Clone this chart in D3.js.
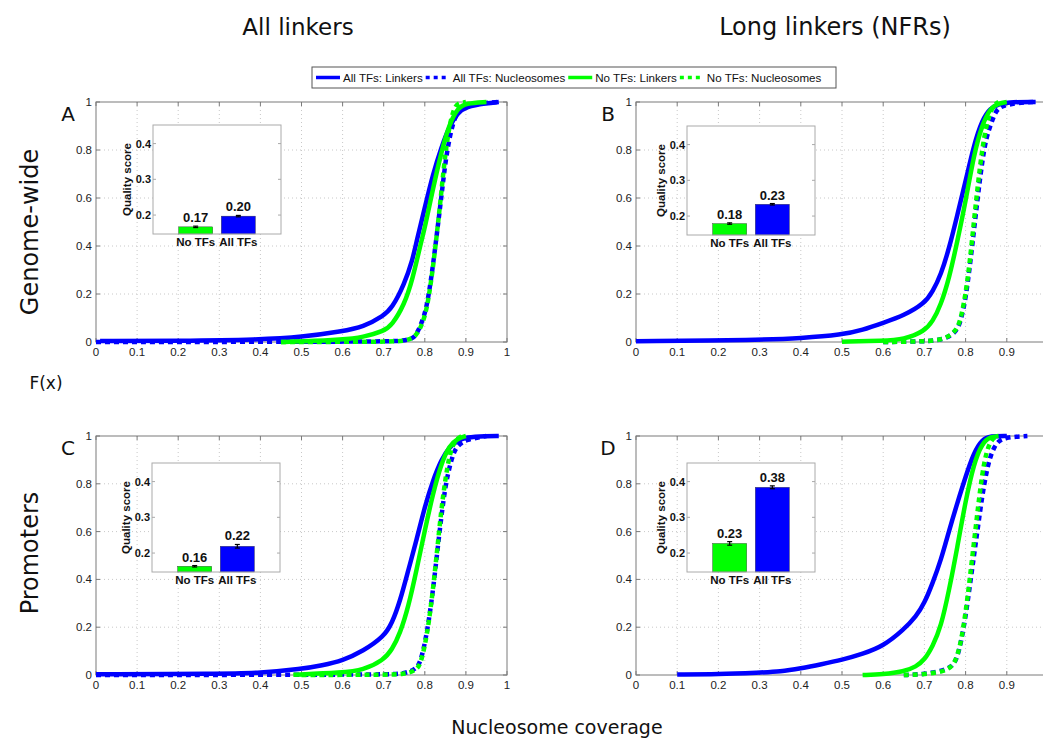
<!DOCTYPE html>
<html>
<head>
<meta charset="utf-8">
<script src="https://cdn.jsdelivr.net/npm/d3@7"></script>
<style>
	body { margin: 0; background: #fff; }
	text { font-family: "Liberation Sans", Arial, sans-serif; }
	.big { font-family: "DejaVu Sans", sans-serif; fill: #111; }
</style>
</head>
<body>
<svg id="chart" width="1043" height="739"></svg>
<script>
// titles and names
const columnTitles = ["All linkers", "Long linkers (NFRs)"];
const rowTitles = ["Genome-wide", "Promoters"];
const panelIds = ["A", "B", "C", "D"];
const seriesNames = ["All TFs: Linkers", "All TFs: Nucleosomes", "No TFs: Linkers", "No TFs: Nucleosomes"];
const barNames = ["No TFs", "All TFs"];

// quality score insets (one value per panel A..D)
const qualityNoTFs = [0.167, 0.179, 0.163, 0.227];
const qualityAllTFs = [0.197, 0.233, 0.219, 0.384];
const errNoTFs = [0.002, 0.002, 0.002, 0.005];
const errAllTFs = [0.002, 0.002, 0.005, 0.004];
const qualityLabelsNo = ["0.17", "0.18", "0.16", "0.23"];
const qualityLabelsAll = ["0.20", "0.23", "0.22", "0.38"];
const insetTicks = [0.2, 0.3, 0.4];

// cumulative distributions [nucleosome coverage, F(x)]
const A_allLinkers = [[0.01,0.004],[0.2,0.005],[0.4,0.01],[0.5,0.02],[0.6,0.045],[0.65,0.062],[0.7,0.11],[0.72,0.14],[0.75,0.24],[0.77,0.34],[0.78,0.42],[0.8,0.56],[0.82,0.7],[0.84,0.81],[0.86,0.9],[0.88,0.955],[0.9,0.98],[0.95,0.995],[0.98,1]];
const A_allNucs = [[0.0,0.0],[0.7,0.001],[0.75,0.005],[0.77,0.015],[0.78,0.03],[0.8,0.11],[0.81,0.2],[0.82,0.32],[0.83,0.46],[0.84,0.6],[0.85,0.75],[0.86,0.85],[0.87,0.92],[0.88,0.96],[0.9,0.98],[0.93,0.995],[0.98,1]];
const A_noLinkers = [[0.45,0.0],[0.5,0.002],[0.6,0.01],[0.65,0.02],[0.7,0.045],[0.72,0.07],[0.75,0.155],[0.77,0.26],[0.79,0.41],[0.8,0.475],[0.82,0.64],[0.84,0.79],[0.86,0.91],[0.88,0.975],[0.9,0.995],[0.95,1]];
const A_noNucs = [[0.45,0.0],[0.7,0.001],[0.75,0.003],[0.78,0.02],[0.8,0.1],[0.81,0.19],[0.82,0.31],[0.83,0.46],[0.84,0.62],[0.85,0.79],[0.86,0.9],[0.87,0.97],[0.88,0.995],[0.9,1]];

const B_allLinkers = [[0.0,0.003],[0.3,0.008],[0.4,0.016],[0.5,0.03],[0.55,0.05],[0.6,0.08],[0.65,0.11],[0.7,0.16],[0.72,0.21],[0.74,0.28],[0.76,0.39],[0.78,0.53],[0.8,0.67],[0.82,0.82],[0.84,0.925],[0.86,0.975],[0.88,0.99],[0.9,1],[0.97,1]];
const B_allNucs = [[0.6,0.0],[0.7,0.002],[0.75,0.01],[0.78,0.045],[0.79,0.1],[0.8,0.18],[0.81,0.31],[0.82,0.46],[0.83,0.61],[0.84,0.75],[0.85,0.85],[0.86,0.9],[0.87,0.95],[0.88,0.975],[0.9,0.99],[0.95,1],[0.97,1]];
const B_noLinkers = [[0.5,0.001],[0.6,0.005],[0.65,0.01],[0.7,0.045],[0.72,0.085],[0.74,0.155],[0.76,0.265],[0.78,0.42],[0.8,0.585],[0.82,0.78],[0.84,0.905],[0.86,0.975],[0.88,0.995],[0.9,1]];
const B_noNucs = [[0.6,0.0],[0.7,0.002],[0.75,0.01],[0.78,0.05],[0.79,0.11],[0.8,0.2],[0.81,0.33],[0.82,0.5],[0.83,0.66],[0.84,0.8],[0.85,0.9],[0.86,0.96],[0.87,0.99],[0.88,1]];

const C_allLinkers = [[0.0,0.003],[0.3,0.005],[0.4,0.008],[0.5,0.025],[0.55,0.04],[0.6,0.06],[0.65,0.1],[0.7,0.16],[0.72,0.215],[0.74,0.31],[0.76,0.44],[0.78,0.565],[0.8,0.705],[0.82,0.815],[0.84,0.9],[0.86,0.955],[0.88,0.98],[0.9,0.995],[0.95,1],[0.98,1]];
const C_allNucs = [[0.0,0.0],[0.7,0.001],[0.75,0.005],[0.78,0.025],[0.79,0.06],[0.8,0.13],[0.81,0.23],[0.82,0.355],[0.83,0.51],[0.84,0.66],[0.85,0.79],[0.86,0.87],[0.87,0.93],[0.88,0.96],[0.9,0.985],[0.95,1]];
const C_noLinkers = [[0.48,0.001],[0.6,0.01],[0.65,0.02],[0.7,0.063],[0.72,0.105],[0.74,0.175],[0.76,0.285],[0.78,0.44],[0.8,0.605],[0.82,0.76],[0.84,0.885],[0.86,0.96],[0.88,0.99],[0.9,1]];
const C_noNucs = [[0.5,0.0],[0.7,0.001],[0.75,0.003],[0.78,0.02],[0.79,0.05],[0.8,0.12],[0.81,0.22],[0.82,0.36],[0.83,0.52],[0.84,0.69],[0.85,0.82],[0.86,0.92],[0.87,0.97],[0.88,0.99],[0.89,1]];

const D_allLinkers = [[0.1,0.002],[0.2,0.003],[0.3,0.01],[0.35,0.014],[0.4,0.028],[0.45,0.045],[0.5,0.063],[0.55,0.088],[0.6,0.12],[0.65,0.19],[0.68,0.245],[0.7,0.3],[0.72,0.385],[0.74,0.48],[0.76,0.605],[0.78,0.72],[0.8,0.83],[0.82,0.93],[0.84,0.985],[0.86,1],[0.9,1]];
const D_allNucs = [[0.65,0.0],[0.7,0.003],[0.75,0.02],[0.77,0.04],[0.78,0.075],[0.79,0.145],[0.8,0.245],[0.81,0.37],[0.82,0.495],[0.83,0.62],[0.84,0.745],[0.85,0.845],[0.86,0.915],[0.87,0.955],[0.88,0.98],[0.9,0.995],[0.95,1]];
const D_noLinkers = [[0.55,0.0],[0.6,0.003],[0.65,0.014],[0.68,0.035],[0.7,0.063],[0.72,0.12],[0.74,0.2],[0.76,0.355],[0.78,0.535],[0.8,0.73],[0.82,0.885],[0.84,0.97],[0.86,0.997],[0.88,1]];
const D_noNucs = [[0.65,0.0],[0.7,0.003],[0.75,0.015],[0.77,0.04],[0.78,0.08],[0.79,0.15],[0.8,0.26],[0.81,0.4],[0.82,0.55],[0.83,0.7],[0.84,0.84],[0.85,0.93],[0.86,0.975],[0.87,0.995],[0.88,1]];

const curves = {
	A: [A_allLinkers, A_allNucs, A_noLinkers, A_noNucs],
	B: [B_allLinkers, B_allNucs, B_noLinkers, B_noNucs],
	C: [C_allLinkers, C_allNucs, C_noLinkers, C_noNucs],
	D: [D_allLinkers, D_allNucs, D_noLinkers, D_noNucs]
};

const blue = "#0000ff", green = "#00ff00";
const seriesColor = [blue, blue, green, green];
const seriesDash = [null, "5,4", null, "5,4"];

// panel geometry
const layout = {
	A: { left: 96, right: 507, top: 102, bottom: 342, ix: 153, iy: 125 },
	B: { left: 636, right: 1048, top: 102, bottom: 342, ix: 687, iy: 126 },
	C: { left: 96, right: 507, top: 436, bottom: 675, ix: 152, iy: 463 },
	D: { left: 636, right: 1048, top: 436, bottom: 675, ix: 687, iy: 463 }
};
const W = 1043;

const svg = d3.select("#chart");

// titles
svg.append("text").attr("class", "big").attr("x", 298).attr("y", 35)
	.attr("text-anchor", "middle").style("font-size", "23px").text(columnTitles[0]);
svg.append("text").attr("class", "big").attr("x", 835).attr("y", 35)
	.attr("text-anchor", "middle").style("font-size", "24px").text(columnTitles[1]);
svg.append("text").attr("class", "big").attr("transform", "translate(38,232) rotate(-90)")
	.attr("text-anchor", "middle").style("font-size", "24px").text(rowTitles[0]);
svg.append("text").attr("class", "big").attr("transform", "translate(38,553) rotate(-90)")
	.attr("text-anchor", "middle").style("font-size", "24px").text(rowTitles[1]);
svg.append("text").attr("class", "big").attr("x", 46).attr("y", 389)
	.attr("text-anchor", "middle").style("font-size", "17px").text("F(x)");
svg.append("text").attr("class", "big").attr("x", 557).attr("y", 734)
	.attr("text-anchor", "middle").style("font-size", "19px").text("Nucleosome coverage");

panelIds.forEach(function (id, pi) {
	const L = layout[id];
	const x = d3.scaleLinear().domain([0, 1]).range([L.left, L.right]);
	const y = d3.scaleLinear().domain([0, 1]).range([L.bottom, L.top]);
	const g = svg.append("g");
	const xt = x.ticks(10), yt = y.ticks(5);

	// dotted grid
	g.selectAll(".gx").data(xt.slice(1, -1)).enter().append("line")
		.attr("x1", d => x(d)).attr("x2", d => x(d))
		.attr("y1", L.top).attr("y2", L.bottom)
		.attr("stroke", "#c8c8c8").attr("stroke-dasharray", "1,3");
	g.selectAll(".gy").data(yt.slice(1, -1)).enter().append("line")
		.attr("y1", d => y(d)).attr("y2", d => y(d))
		.attr("x1", L.left).attr("x2", L.right)
		.attr("stroke", "#c8c8c8").attr("stroke-dasharray", "1,3");

	// box + inner ticks
	g.append("rect").attr("x", L.left).attr("y", L.top)
		.attr("width", L.right - L.left).attr("height", L.bottom - L.top)
		.attr("fill", "none").attr("stroke", "#7a7a7a");
	xt.forEach(function (t) {
		g.append("line").attr("x1", x(t)).attr("x2", x(t)).attr("y1", L.bottom).attr("y2", L.bottom - 4).attr("stroke", "#7a7a7a");
		g.append("line").attr("x1", x(t)).attr("x2", x(t)).attr("y1", L.top).attr("y2", L.top + 4).attr("stroke", "#7a7a7a");
	});
	yt.forEach(function (t) {
		g.append("line").attr("y1", y(t)).attr("y2", y(t)).attr("x1", L.left).attr("x2", L.left + 4).attr("stroke", "#7a7a7a");
		g.append("line").attr("y1", y(t)).attr("y2", y(t)).attr("x1", L.right).attr("x2", L.right - 4).attr("stroke", "#7a7a7a");
	});

	// tick labels (the right column's axis runs past the page edge)
	const fmt = d3.format("~g");
	g.selectAll(".xl").data(xt.filter(d => x(d) + 6 < W)).enter().append("text")
		.attr("x", d => x(d)).attr("y", L.bottom + 14)
		.attr("text-anchor", "middle").style("font-size", "11.5px").attr("fill", "#222")
		.text(d => fmt(d));
	g.selectAll(".yl").data(yt).enter().append("text")
		.attr("x", L.left - 4).attr("y", d => y(d) + 4)
		.attr("text-anchor", "end").style("font-size", "11.5px").attr("fill", "#222")
		.text(d => fmt(d));

	// panel letter
	svg.append("text").attr("class", "big").attr("x", L.left - 28).attr("y", L.top + 19)
		.attr("text-anchor", "middle").style("font-size", "20px").text(id);

	// curves
	const line = d3.line().x(d => x(d[0])).y(d => y(d[1])).curve(d3.curveBasis);
	curves[id].forEach(function (pts, si) {
		g.append("path").datum(pts).attr("d", line)
			.attr("fill", "none").attr("stroke", seriesColor[si])
			.attr("stroke-width", 4.5)
			.attr("stroke-dasharray", seriesDash[si]);
	});

	// quality score inset
	const iw = 128, ih = 109;
	const ig = svg.append("g").attr("transform", "translate(" + L.ix + "," + L.iy + ")");
	const bx = d3.scaleLinear().domain([0, 3]).range([0, iw]);
	const by = d3.scaleLinear().domain([0.147, 0.452]).range([ih, 0]);
	ig.append("rect").attr("width", iw).attr("height", ih).attr("fill", "#fff");
	const vals = [qualityNoTFs[pi], qualityAllTFs[pi]];
	const errs = [errNoTFs[pi], errAllTFs[pi]];
	const labs = [qualityLabelsNo[pi], qualityLabelsAll[pi]];
	const cols = [green, blue];
	vals.forEach(function (v, bi) {
		const cx = bx(bi + 1), hw = (bx(0.8) - bx(0)) / 2;
		ig.append("rect").attr("x", cx - hw).attr("width", hw * 2)
			.attr("y", by(v)).attr("height", ih - by(v))
			.attr("fill", cols[bi]).attr("stroke", "#333").attr("stroke-width", 0.4);
		const e = errs[bi];
		ig.append("line").attr("x1", cx).attr("x2", cx).attr("y1", by(v - e)).attr("y2", by(v + e)).attr("stroke", "#000").attr("stroke-width", 1.2);
		[v - e, v + e].forEach(function (ev) {
			ig.append("line").attr("x1", cx - 2.5).attr("x2", cx + 2.5).attr("y1", by(ev)).attr("y2", by(ev)).attr("stroke", "#000").attr("stroke-width", 1.2);
		});
		ig.append("text").attr("x", cx).attr("y", by(v + e) - 4)
			.attr("text-anchor", "middle").style("font-size", "13px").style("font-weight", "bold")
			.attr("fill", "#111").text(labs[bi]);
		ig.append("text").attr("x", cx).attr("y", ih + 12)
			.attr("text-anchor", "middle").style("font-size", "11.5px").style("font-weight", "bold")
			.attr("fill", "#111").text(barNames[bi]);
	});
	ig.append("rect").attr("width", iw).attr("height", ih).attr("fill", "none").attr("stroke", "#aaa");
	insetTicks.forEach(function (t) {
		ig.append("line").attr("x1", 0).attr("x2", 3).attr("y1", by(t)).attr("y2", by(t)).attr("stroke", "#aaa");
		ig.append("line").attr("x1", iw).attr("x2", iw - 3).attr("y1", by(t)).attr("y2", by(t)).attr("stroke", "#aaa");
		ig.append("text").attr("x", -2).attr("y", by(t) + 4)
			.attr("text-anchor", "end").style("font-size", "11px").style("font-weight", "bold")
			.attr("fill", "#111").text(d3.format(".1f")(t));
	});
	ig.append("text").attr("transform", "translate(-22," + ih / 2 + ") rotate(-90)")
		.attr("text-anchor", "middle").style("font-size", "11.5px").style("font-weight", "bold")
		.attr("fill", "#111").text("Quality score");
});

// legend
const leg = svg.append("g");
leg.append("rect").attr("x", 312).attr("y", 67).attr("width", 524).attr("height", 21)
	.attr("fill", "#fff").attr("stroke", "#555");
let cx = 316;
seriesNames.forEach(function (name, si) {
	leg.append("line").attr("x1", cx).attr("x2", cx + 24).attr("y1", 77.5).attr("y2", 77.5)
		.attr("stroke", seriesColor[si]).attr("stroke-width", 3.5)
		.attr("stroke-dasharray", seriesDash[si] ? "4,4" : null);
	const t = leg.append("text").attr("x", cx + 27).attr("y", 81.5)
		.style("font-size", "11.6px").attr("fill", "#111").text(name);
	cx = cx + 27 + t.node().getComputedTextLength() + 3;
});
</script>
</body>
</html>
